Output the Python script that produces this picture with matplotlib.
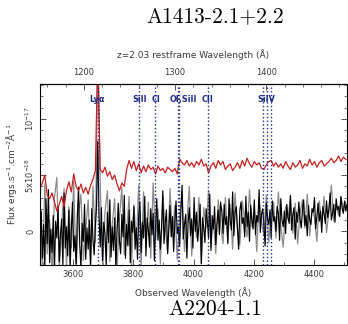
import numpy as np
import matplotlib
matplotlib.use("Agg")
import matplotlib.pyplot as plt
from matplotlib.ticker import MultipleLocator
import matplotlib.transforms as mtransforms

# redshift and wavelength grid start
z = 2.03
lam0 = 3490.0

# smoothed spectrum (red), 8 A step, units of 1e-18 erg/s/cm2/A
red_flux = [3.8, 4.3, 5.0, 3.2, 2.9, 3.4, 2.6, 1.8, 2.4, 3.1,
            2.2, 3.6, 4.4, 3.5, 5.1, 4.0, 3.6, 4.2, 3.4, 3.9,
            3.3, 4.1, 4.6, 5.4, 16.0, 5.5, 5.2, 5.7, 4.9, 5.3,
            4.6, 5.0, 4.2, 3.6, 4.3, 4.0, 5.5, 6.3, 5.6, 6.2,
            5.4, 6.0, 5.2, 5.8, 5.3, 5.9, 5.5, 5.7, 5.1, 5.8,
            5.4, 5.6, 5.2, 5.7, 5.5, 5.3, 5.6, 5.1, 6.4, 6.1,
            5.9, 6.3, 5.8, 6.1, 5.7, 6.2, 5.9, 6.4, 5.8, 6.0,
            5.2, 5.8, 6.1, 5.6, 6.3, 5.9, 6.2, 5.5, 5.8, 6.0,
            5.4, 5.7, 6.1, 5.6, 6.3, 5.8, 6.5, 6.0, 5.7, 6.2,
            5.9, 6.1, 5.6, 5.5, 5.9, 6.2, 6.3, 5.8, 6.1, 5.7,
            6.0, 5.6, 6.2, 5.8, 5.5, 6.1, 5.7, 5.9, 6.3, 5.6,
            6.0, 5.8, 6.4, 5.9, 6.2, 5.7, 6.1, 6.3, 5.8, 6.0,
            6.2, 6.5, 6.1, 6.3, 6.7, 6.2, 6.6, 6.4]

# raw spectrum (black), 4 A step
black_flux = [-0.5, 1.8, -2.4, 0.6, -3.2, 2.9, -1.1, 3.7, -2.8, 0.2,
              -1.9, 1.4, -3.5, 0.9, -0.6, 2.2, -2.7, -0.3, 1.1, -3.1,
              3.4, -1.5, 0.4, -2.2, 1.9, -3.4, 0.1, 2.6, -1.8, -0.4,
              -2.9, 1.3, 3.9, -1.2, -3.3, 0.7, -0.9, 2.4, -2.5, 0.3,
              -1.6, 1.0, -3.0, 2.0, -0.8, -2.1, 0.5, 2.3,
              8.0, 1.5,
              -1.4, 2.1, -2.6, 0.8, -0.2, -3.1, 1.7, -1.0, 2.8, -2.3,
              0.4, -1.7, 1.2, -3.3, 0.0, 2.5, -0.9, -2.0, 1.5, -0.5,
              3.2, -2.4, 0.6, -1.3, 1.9, -2.8, 0.9, -0.1, 2.2, -1.6,
              0.3, -2.5, 1.4,
              2.6, -1.9, 0.8, -0.6, 3.1, -2.2, 1.2, 0.1, -1.4, 2.0,
              -0.3, 1.6, -2.6, 0.5, 2.9, -0.8, 1.0, -1.6, 0.3, 3.6,
              -1.1, 0.7, 1.9, -2.0, 0.2, 2.3, -0.5, 1.3, -1.8, 0.9,
              2.7, -0.2, 0.4, -1.3, 1.8, 4.1, -0.7, 0.6, 1.5, -2.4,
              0.8, 2.1, -0.4, 1.1, -1.5, 3.0, 0.0, 1.7, -0.9, 0.5,
              2.4, -2.9, 1.2, 0.3, -1.0, 2.0, 0.9, -0.6, 3.3, -1.7,
              1.4, 0.2, 2.2, -1.2, 0.7, 1.9, -0.3, 2.6,
              1.8, -0.2, 2.4, 0.6, 1.3, -1.1, 2.9, 0.9, 0.1, 3.5,
              -0.4, 1.6, 2.2, 0.3, -1.6, 1.9, 2.6, 0.7, 1.2, -0.5,
              3.1, 0.4, 1.7, -0.9, 2.3, 1.0, 0.2, 2.8, -0.3, 1.4,
              0.8, 3.7, -0.1, 1.5, 2.0, 0.5, -1.3, 2.5, 1.1, 0.6,
              1.9, -0.6, 2.7, 0.9, 1.3, 0.0, 2.2, 1.6, -0.8, 2.9,
              1.0, 0.4, 1.8, -0.2, 2.4, 1.2, 0.7, 3.2, 0.1, 1.5,
              2.1, -0.7, 1.7, 0.8, 2.6, 1.1, 0.3, 1.9, 2.8, 0.5,
              1.4, -0.4, 2.3, 1.0, 0.6, 2.0, 1.7, 3.0, 0.2, 1.3,
              2.5, 0.9, 1.8, -0.1, 2.2, 1.5, 0.7, 2.7, 1.2, 2.0,
              3.4, 1.0, 1.6, 2.4, 0.8, 2.9, 1.9, 2.2, 1.3, 3.1,
              2.0, 1.6, 2.7, 1.8, 2.4]

# grey spikes behind the raw spectrum, 8 A step
grey_flux = [2.5, -3.5, 4.2, -2.0, 1.0, -3.8, 3.0, 4.8, -3.6, 0.5,
             3.8, -3.2, 2.2, -1.5, 4.5, -3.7, 1.6, 3.3, -2.6, 0.2,
             2.8, -3.4, 4.0, -1.0,
             16.0,
             4.4, -3.5, 1.8, 3.6, -2.7, 0.6, 2.9, -3.4, 1.2, 3.9,
             -2.1, 0.0, 3.1, -3.0, 2.4, -1.2, 4.1,
             -3.2, 3.5, -1.5, 2.6, -2.4, 4.3, -0.8, 2.0, -2.9, 3.2,
             0.4, -1.9, 3.8, -0.5, 2.3, -2.5, 1.4, 3.4, -1.8, 0.9,
             4.0, -2.2, 1.7, -0.6, 3.0, -2.8, 2.1, 0.3, 3.6, -1.4,
             1.1, -2.0, 2.8, 0.6, -1.1,
             3.0, -0.9, 2.4, -1.6, 3.4, 0.2, -1.2, 2.7, 1.0, -0.5,
             3.7, 0.4, 2.1, -1.8, 2.9, 0.8, -0.3, 3.2, -1.0, 1.9,
             2.6, -0.6, 3.5, 0.5, -1.4, 2.2, 1.1, 3.0, -0.2, 2.5,
             -1.1, 1.6, 2.8, 0.3, 3.3, -0.4, 2.0, 1.2, -0.9, 2.7,
             0.7, 3.1, -0.1, 1.8, 4.1, 0.9, 2.4, 1.4, 3.0, 2.0, 2.6]

# line identifications (observed wavelengths)
line_waves = [3682, 3820, 3872, 3947, 3953, 4047, 4232, 4243, 4259]
label_text = ["Ly\u03b1", "SiII", "CI", "OI,SiII", "CII", "SiIV"]
label_waves = [3680, 3820, 3874, 3966, 4047, 4241]

lam_red = lam0 + 8 * np.arange(len(red_flux))
lam_black = lam0 + 4 * np.arange(len(black_flux))
lam_grey = lam0 + 8 * np.arange(len(grey_flux))

txtc = "#3a3a3a"
navy = "#1c2a8e"

fig = plt.figure(figsize=(3.48, 3.24), dpi=100)
ax = fig.add_axes([40 / 348, 59 / 324, 307 / 348, 181 / 324])

ax.plot(lam_grey, grey_flux, color="#8c8c8c", lw=0.9)
ax.plot(lam_black, black_flux, color="black", lw=0.85)
ax.plot(lam_red, red_flux, color="#c81e1e", lw=0.9)

for w in line_waves:
    ax.axvline(w, color=navy, ls=":", lw=1.0)

trans = mtransforms.blended_transform_factory(ax.transData, ax.transAxes)
for t, w in zip(label_text, label_waves):
    ax.text(w, 0.915, t, transform=trans, ha="center", va="center",
            color=navy, fontsize=5.8, fontweight="bold")

ax.set_xlim(3490, 4510)
ax.set_ylim(-3.0, 13.1)

ax.xaxis.set_major_locator(MultipleLocator(200))
ax.xaxis.set_minor_locator(MultipleLocator(100))
ax.set_yticks([0, 5, 10])
ax.set_yticklabels(["0", r"5x10$^{-18}$", r"10$^{-17}$"])
ax.yaxis.set_minor_locator(MultipleLocator(1))

ax.tick_params(which="both", direction="in", top=False, right=True,
               labelsize=6, colors=txtc, labelcolor=txtc)
ax.tick_params(which="major", length=4, width=0.6)
ax.tick_params(which="minor", length=2, width=0.5)
ax.tick_params(axis="y", labelrotation=90, pad=3)
for lbl in ax.get_yticklabels():
    lbl.set_va("center")

for sp in ax.spines.values():
    sp.set_linewidth(0.8)

ax.set_xlabel("Observed Wavelength (\u00c5)", fontsize=6.5, color=txtc, labelpad=6)
ax.set_ylabel("Flux ergs.s$^{-1}$.cm$^{-2}$\u00c5$^{-1}$", fontsize=6.5,
              color=txtc, labelpad=3)

sec = ax.secondary_xaxis("top", functions=(lambda x: x / (1 + z), lambda x: x * (1 + z)))
sec.set_xticks([1200, 1300, 1400])
sec.xaxis.set_minor_locator(MultipleLocator(20))
sec.tick_params(which="both", direction="in", labelsize=6, colors=txtc, labelcolor=txtc)
sec.tick_params(which="major", length=4, width=0.6, pad=5)
sec.tick_params(which="minor", length=2, width=0.5)
sec.set_xlabel("z=2.03 restframe Wavelength (\u00c5)", fontsize=6.5, color=txtc, labelpad=7)

fig.text(215 / 348, 1 - 22 / 324, "A1413-2.1+2.2", ha="center", va="baseline",
         family="cmr10", fontsize=15.5)
fig.text(215 / 348, 1 - 315 / 324, "A2204-1.1", ha="center", va="baseline",
         family="cmr10", fontsize=15.5)

fig.savefig("out.png", dpi=100)
